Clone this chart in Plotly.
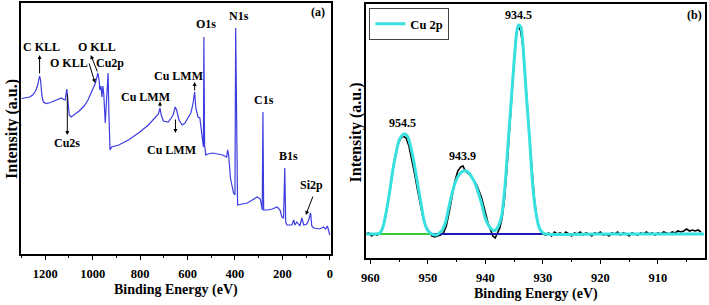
import plotly.graph_objects as go

# ---------------- Panel (a): survey spectrum ----------------
survey_be = [1300, 1287, 1266, 1253, 1241, 1233, 1224, 1220, 1214, 1208, 1195, 1178, 1162, 1145,
             1132, 1122, 1116, 1109, 1105, 1099, 1091, 1078, 1057, 1036, 1020, 1007, 999, 990, 982,
             978, 973, 970, 965, 961, 957, 953, 947, 943, 935, 932, 927, 920, 890, 849, 807, 765,
             736, 723, 716, 711, 702, 682, 669, 661, 652, 646, 636, 623, 611, 598, 586, 577, 570,
             565, 556, 548, 540, 533, 531, 528, 523, 515, 494, 473, 452, 435, 431, 427, 419, 406,
             400, 397, 392, 389, 369, 348, 327, 306, 293, 285, 282, 279, 264, 243, 222, 210, 202,
             195, 190, 186, 181, 160, 152, 147, 139, 126, 118, 110, 97, 89, 81, 76, 68, 43, 26,
             18, 10, 3, 0]
survey_int = [155.5, 156, 157, 159, 163, 168, 178, 174, 158, 152, 150.5, 151.5, 153, 154.5,
              156, 154.5, 154, 165, 155, 139, 137, 139, 143, 148, 154, 161, 165, 170, 177,
              181, 174, 164, 168, 157, 168, 159, 131, 149, 181, 144, 104, 107, 109, 114, 121, 129,
              137, 140, 146, 139, 133, 132, 136, 139, 147, 144, 134, 129, 131, 136, 141, 150, 162,
              146, 137, 136, 117, 107, 217, 109, 99, 100, 101, 100, 99, 97, 104, 100, 76, 61,
              59, 226, 54, 49, 50, 51, 54, 57, 55, 44, 142, 44, 44, 45, 47, 44, 37,
              36, 86, 32, 29, 29, 34, 29, 32, 28, 36, 29, 30, 34, 41, 28, 26, 25, 27,
              25, 28, 21, 19]

# ---------------- Panel (b): Cu 2p high resolution ----------------
exp_be = [960.8, 960.3, 959.8, 959.3, 958.8, 958.3,
          957.8, 957.3, 956.8, 956.3, 955.8, 955.3, 954.8, 954.3, 953.8, 953.3, 952.8, 952.3,
          951.8, 951.3, 950.8, 950.3, 949.8, 949.3, 948.8, 948.3, 947.8, 947.3,
          946.8, 946.3, 945.8, 945.3, 944.8, 944.3, 943.9, 943.5, 943.1, 942.7, 942.3, 941.9,
          941.5, 941.1, 940.7, 940.3, 939.9, 939.5, 939.1, 938.7, 938.3, 937.9,
          937.5, 937.1, 936.7, 936.3, 935.9, 935.5, 935.1, 934.7, 934.3, 933.9, 933.5, 933.1,
          932.7, 932.3, 931.9, 931.5, 931.1, 930.7, 930.3, 929.9, 929.5,
          929.0, 928.5, 928.0, 927.5, 927.0, 926.5, 926.0, 925.5, 925.0, 924.5, 924.0, 923.5,
          923.0, 922.5, 922.0, 921.5, 921.0, 920.5, 920.0, 919.5, 919.0, 918.5, 918.0, 917.5,
          917.0, 916.5, 916.0, 915.5, 915.0, 914.5, 914.0, 913.5, 913.0, 912.5, 912.0, 911.5,
          911.0, 910.5, 910.0, 909.5, 909.0, 908.5, 908.0, 907.5, 907.0, 906.5, 906.0, 905.5,
          905.0, 904.5, 904.0, 903.5, 903.0, 902.5]
exp_int = [24, 25, 22, 24, 23, 25,
           31, 43, 60, 81, 99, 112, 119, 122, 120, 112, 99, 84,
           68, 52, 39, 31, 26, 22, 21, 22, 23, 25,
           32, 46, 62, 77, 87, 91, 92, 87, 85, 83, 80, 77,
           73, 67, 61, 52, 42, 34, 28, 22, 20, 25,
           30, 40, 58, 86, 122, 160, 196, 222, 232, 228, 212, 186,
           152, 118, 86, 60, 42, 31, 26, 24, 23,
           25, 22, 26, 24, 25, 23, 26, 24, 22, 25, 24, 26,
           23, 25, 24, 22, 25, 24, 26, 23, 24, 22, 25, 24,
           26, 23, 25, 24, 22, 25, 24, 23, 25, 24, 26, 24,
           25, 23, 25, 24, 26, 25, 24, 26, 25, 27, 26, 27,
           29, 27, 28, 27, 28, 26]

fit_be = [961.0, 959.0, 958.4, 957.8, 957.3, 956.7, 956.1, 955.5, 955.0, 954.4, 954.0, 953.5,
          953.0, 952.4, 951.8, 951.2, 950.7, 950.1, 949.2, 948.5, 948.1, 947.5, 946.9, 946.4,
          945.8, 945.2, 944.6, 944.1, 943.5, 942.9, 942.4, 941.8, 941.2, 940.6, 940.1, 939.5,
          938.9, 938.4, 937.8, 937.2, 936.6, 936.1, 935.5, 934.9, 934.5, 934.2, 933.8, 933.4,
          932.9, 932.3, 931.8, 931.2, 930.6, 929.9, 929.2, 920.0, 910.0, 902.0]
fit_int = [24, 24, 24.7, 31.3, 44.7, 64.7, 88, 106.3, 118, 123, 124, 121.3,
           111.3, 94.7, 74.7, 54.7, 38, 28, 23.7, 23, 24.7, 28, 36.3, 49.7,
           64.7, 76.3, 83, 86.3, 87.3, 85.3, 81.3, 74.7, 64.7, 53, 41.3, 33,
           28.7, 27.3, 31.3, 41.3, 71.3, 111.3, 158, 204.7, 228, 233, 230.7, 208,
           164.7, 118, 74.7, 44.7, 29.7, 24.7, 23.7, 24, 24, 24]

base1_be = [959.0, 949.0]
base1_int = [24, 24]
base2_be = [949.5, 929.2]
base2_int = [24, 24]

FONT = "Liberation Serif"

fig = go.Figure()
fig.add_trace(go.Scatter(x=survey_be, y=survey_int, mode="lines",
                         line=dict(color="#3c3ce0", width=1.2), showlegend=False,
                         xaxis="x", yaxis="y"))
fig.add_trace(go.Scatter(x=exp_be, y=exp_int, mode="lines",
                         line=dict(color="black", width=1.6), showlegend=False,
                         xaxis="x2", yaxis="y2"))
fig.add_trace(go.Scatter(x=base1_be, y=base1_int, mode="lines",
                         line=dict(color="#33cc33", width=2.2), showlegend=False,
                         xaxis="x2", yaxis="y2"))
fig.add_trace(go.Scatter(x=base2_be, y=base2_int, mode="lines",
                         line=dict(color="#1c1cb4", width=2.2), showlegend=False,
                         xaxis="x2", yaxis="y2"))
fig.add_trace(go.Scatter(x=fit_be, y=fit_int, mode="lines", name="<b>Cu 2p</b>",
                         line=dict(color="#38e0e0", width=3, shape="spline", smoothing=0.6),
                         xaxis="x2", yaxis="y2"))

axis_common = dict(showline=True, mirror=True, linecolor="black", linewidth=1.5,
                   showgrid=False, zeroline=False, ticks="outside", ticklen=4, tickwidth=1.3,
                   tickcolor="black", ticklabelstandoff=3,
                   tickfont=dict(family=FONT, size=12.5, color="black", weight="bold"))

fig.update_layout(
    width=709, height=305,
    margin=dict(l=0, r=0, t=0, b=0),
    paper_bgcolor="white", plot_bgcolor="white",
    xaxis=dict(domain=[16/709, 329/709], range=[1303, -4], tickvals=[0, 200, 400, 600, 800, 1000, 1200],
               minor=dict(dtick=100, ticks="outside", ticklen=2.5, tickcolor="black", tickwidth=1.2),
               anchor="y", **axis_common),
    yaxis=dict(domain=[1 - 254/305, 1 - 3/305], range=[0, 251], showticklabels=False,
               anchor="x", showline=True, mirror=True, linecolor="black", linewidth=1.5,
               showgrid=False, zeroline=False, ticks=""),
    xaxis2=dict(domain=[365/709, 707/709], range=[960.7, 901.8], dtick=10, tick0=900,
                minor=dict(dtick=5, ticks="outside", ticklen=2.5, tickcolor="black", tickwidth=1.2),
                anchor="y2", **axis_common),
    yaxis2=dict(domain=[1 - 258/305, 1 - 4/305], range=[0, 254], showticklabels=False,
                anchor="x2", showline=True, mirror=True, linecolor="black", linewidth=1.5,
                showgrid=False, zeroline=False, ticks=""),
    legend=dict(x=368/709, y=1 - 8/305, xanchor="left", yanchor="top",
                bordercolor="#444", borderwidth=1, bgcolor="white",
                font=dict(family=FONT, size=12.5, color="black"),
                tracegroupgap=0, itemwidth=30),
    showlegend=True,
)

ann = []

def label(text, x, y, xr="x", yr="y", size=12):
    ann.append(dict(text=text, x=x, y=y, xref=xr, yref=yr, showarrow=False,
                    xanchor="center", yanchor="middle",
                    font=dict(family=FONT, size=size, color="black", weight="bold")))

def arrow(x_head, y_head, x_tail, y_tail, xr="x", yr="y"):
    ann.append(dict(text="", x=x_head, y=y_head, ax=x_tail, ay=y_tail, xref=xr, yref=yr,
                    axref=xr, ayref=yr, showarrow=True, arrowhead=2, arrowsize=0.8,
                    arrowwidth=1, arrowcolor="black"))

# panel (a) labels
label("C KLL", 1217, 207)
arrow(1224, 199, 1224, 179)
label("O KLL", 982, 207)
arrow(1008, 199, 978, 181)
label("O KLL", 1099, 191)
arrow(990, 171, 1017, 192)
label("Cu2p", 928, 191)
label("Cu2s", 1107, 111)
arrow(1107, 119, 1107, 161)
label("Cu LMM", 779, 157)
arrow(716, 152.5, 716, 146)
label("Cu LMM", 637, 178)
arrow(570, 172, 570, 162)
label("Cu LMM", 668, 104)
arrow(651, 121, 651, 136)
label("O1s", 522, 230)
label("N1s", 382, 238)
label("C1s", 278, 154)
label("B1s", 174, 98)
label("Si2p", 76, 69)
arrow(101, 39, 69, 59)
label("(a)", 48, 242)

# panel (b) labels
label("934.5", 934.3, 243, "x2", "y2")
label("954.5", 954.4, 134.7, "x2", "y2")
label("943.9", 943.9, 102.3, "x2", "y2")
label("(b)", 903.7, 243, "x2", "y2")

# axis titles
TT = dict(family=FONT, size=14, color="black", weight="bold")
TY = dict(family=FONT, size=16, color="black", weight="bold")
ann.append(dict(text="Binding Energy (eV)", x=(16 + 329) / 2 / 709, y=1 - 290/305,
                xref="paper", yref="paper", showarrow=False, xanchor="center",
                yanchor="middle", font=TT))
ann.append(dict(text="Binding Energy (eV)", x=(365 + 707) / 2 / 709, y=1 - 294/305,
                xref="paper", yref="paper", showarrow=False, xanchor="center",
                yanchor="middle", font=TT))
ann.append(dict(text="Intensity (a.u.)", x=7/709, y=1 - 129/305, xref="paper", yref="paper",
                showarrow=False, textangle=-90, xanchor="center", yanchor="middle", font=TY))
ann.append(dict(text="Intensity (a.u.)", x=355/709, y=1 - 132/305, xref="paper", yref="paper",
                showarrow=False, textangle=-90, xanchor="center", yanchor="middle", font=TY))

fig.update_layout(annotations=ann)
fig.write_html("out.html", config={"displayModeBar": False},
               post_script="document.body.style.margin='0';")
